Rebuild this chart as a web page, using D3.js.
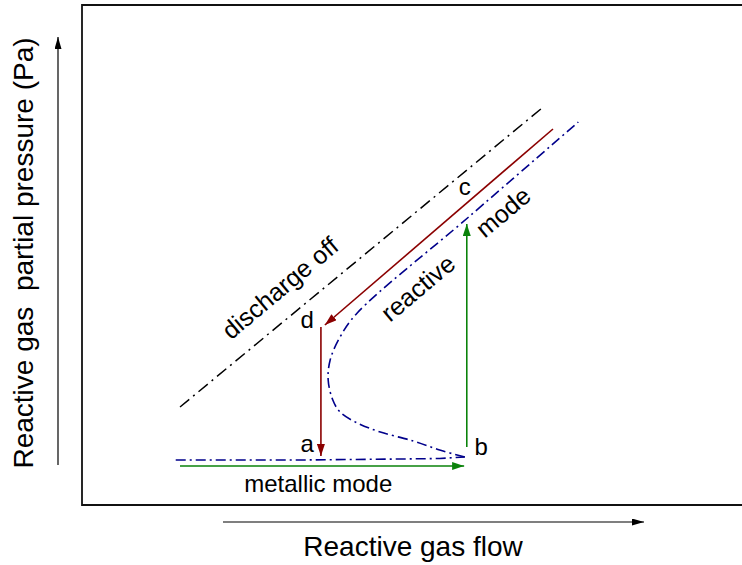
<!DOCTYPE html>
<html>
<head>
<meta charset="utf-8">
<script src="https://cdn.jsdelivr.net/npm/d3@7"></script>
<style>
  body { margin: 0; background: #fff; }
  text { font-family: "Liberation Sans", Arial, sans-serif; fill: #000; white-space: pre; }
</style>
</head>
<body>
<div id="chart"></div>
<script>
// data in arbitrary units: flow 0..100, pressure 0..100
const dischargeOff = [[14.85, 19.6], [69.7, 79.4]]
const metallicBranch = [[14.2, 9.0], [33, 9.0], [48.2, 9.2], [54.2, 9.3], [58.0, 9.6]]
const reactiveBranch = [[58.0, 9.6], [54.2, 11.0], [50.2, 12.8], [45.2, 14.6], [41.7, 16.4], [39.1, 18.6],
                        [38.0, 21.0], [37.3, 25.0], [37.6, 29.0], [39.1, 33.6], [41.7, 38.4], [58.5, 57.5], [75.2, 76.6]]
const pathAB = [[14.85, 7.8], [57.9, 7.8]]
const pathBC = [[58.3, 11.6], [58.3, 56.2]]
const pathCD = [[71.36, 75.2], [36.8, 36.0]]
const pathDA = [[36.2, 35.6], [36.2, 9.8]]
const pointLabels = ["a", "b", "c", "d"]
const pointPos = [[34.1, 10.6], [60.5, 10.0], [58.0, 62.0], [34.1, 35.4]]
const modeLabels = ["metallic mode", "discharge off", "reactive", "mode"]
const modePos = [[35.8, 2.6], [30.0, 43.4], [50.9, 43.4], [63.8, 58.6]]
const modeAngle = [0, -40, -40, -40]

const W = 742, H = 565
const x = d3.scaleLinear().domain([0, 100]).range([82, 742])
const y = d3.scaleLinear().domain([0, 100]).range([505, 5])

const svg = d3.select("#chart").append("svg")
    .attr("width", W).attr("height", H)

const defs = svg.append("defs")
const addMarker = (id, color, len, wid) => {
  defs.append("marker")
    .attr("id", id)
    .attr("markerUnits", "userSpaceOnUse")
    .attr("viewBox", `0 ${-wid/2} ${len} ${wid}`)
    .attr("refX", len).attr("refY", 0)
    .attr("markerWidth", len).attr("markerHeight", wid)
    .attr("orient", "auto")
    .append("path")
    .attr("d", `M0,${-wid/2}L${len},0L0,${wid/2}Z`)
    .attr("fill", color)
}
addMarker("arrRed", "#8b0000", 12, 8)
addMarker("arrGreen", "#0a820a", 12, 8)
addMarker("arrBlack", "#000", 12, 7)

// frame (open on the right)
svg.append("path")
    .attr("d", `M${W + 2},${y(100)}H${x(0)}V${y(0)}H${W + 2}`)
    .attr("fill", "none").attr("stroke", "#111").attr("stroke-width", 1.8)

// axis arrows
svg.append("line")
    .attr("x1", 58).attr("y1", 465).attr("x2", 58).attr("y2", 37)
    .attr("stroke", "#000").attr("stroke-width", 1.2).attr("marker-end", "url(#arrBlack)")
svg.append("line")
    .attr("x1", 223).attr("y1", 522).attr("x2", 644).attr("y2", 522)
    .attr("stroke", "#000").attr("stroke-width", 1.2).attr("marker-end", "url(#arrBlack)")

svg.append("text")
    .attr("transform", "translate(33,253) rotate(-90)")
    .attr("text-anchor", "middle")
    .style("font-size", "28px")
    .text("Reactive gas  partial pressure (Pa)")
svg.append("text")
    .attr("x", 413).attr("y", 556)
    .attr("text-anchor", "middle")
    .style("font-size", "28px")
    .text("Reactive gas flow")

const line = d3.line().x(d => x(d[0])).y(d => y(d[1]))
const smooth = d3.line().curve(d3.curveCatmullRom).x(d => x(d[0])).y(d => y(d[1]))

svg.append("path").attr("d", line(dischargeOff))
    .attr("fill", "none").attr("stroke", "#000").attr("stroke-width", 1.5)
    .attr("stroke-dasharray", "12,5,2,5")
svg.append("path").attr("d", line(metallicBranch))
    .attr("fill", "none").attr("stroke", "#00008b").attr("stroke-width", 1.6)
    .attr("stroke-dasharray", "10,4,2,4")
svg.append("path").attr("d", smooth(reactiveBranch))
    .attr("fill", "none").attr("stroke", "#00008b").attr("stroke-width", 1.6)
    .attr("stroke-dasharray", "10,4,2,4")

const arrows = [[pathAB, "#0a820a", "arrGreen"], [pathBC, "#0a820a", "arrGreen"],
                [pathCD, "#8b0000", "arrRed"], [pathDA, "#8b0000", "arrRed"]]
arrows.forEach(([pts, color, mk]) => {
  svg.append("path").attr("d", line(pts))
      .attr("fill", "none").attr("stroke", color).attr("stroke-width", 1.6)
      .attr("marker-end", `url(#${mk})`)
})

svg.selectAll("text.pt").data(pointLabels).join("text")
    .attr("class", "pt")
    .attr("x", (d, i) => x(pointPos[i][0]))
    .attr("y", (d, i) => y(pointPos[i][1]))
    .attr("text-anchor", "middle")
    .style("font-size", "24px")
    .text(d => d)

svg.selectAll("text.mode").data(modeLabels).join("text")
    .attr("class", "mode")
    .attr("transform", (d, i) => `translate(${x(modePos[i][0])},${y(modePos[i][1])}) rotate(${modeAngle[i]})`)
    .attr("text-anchor", "middle")
    .attr("dy", (d, i) => i === 0 ? 0 : "0.35em")
    .style("font-size", (d, i) => i === 0 ? "24px" : "25px")
    .text(d => d)
</script>
</body>
</html>
